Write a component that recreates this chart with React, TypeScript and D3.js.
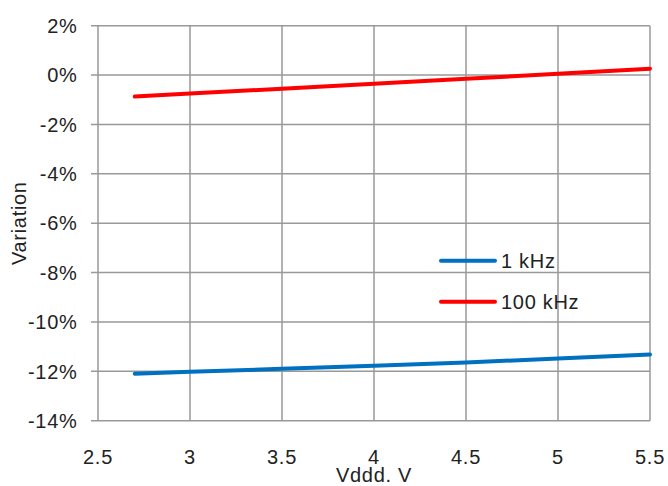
import React from "react";
import * as d3 from "d3";

const xTicks = [2.5, 3, 3.5, 4, 4.5, 5, 5.5];
const xTickLabels = ["2.5", "3", "3.5", "4", "4.5", "5", "5.5"];
const yTicks = [2, 0, -2, -4, -6, -8, -10, -12, -14];
const yTickLabels = ["2%", "0%", "-2%", "-4%", "-6%", "-8%", "-10%", "-12%", "-14%"];

const vddd = [2.7, 3.0, 3.5, 4.0, 4.5, 5.0, 5.5];
const series1kHz = [-12.1, -12.02, -11.9, -11.77, -11.64, -11.48, -11.32];
const series100kHz = [-0.87, -0.75, -0.55, -0.35, -0.15, 0.05, 0.26];

const seriesNames = ["1 kHz", "100 kHz"];
const seriesColors = ["#0070C0", "#FF0000"];

export default function App() {
  const W = 668, H = 486;
  const x = d3.scaleLinear().domain([2.5, 5.5]).range([98, 650]);
  const y = d3.scaleLinear().domain([-14, 2]).range([420.7, 25.7]);
  const line = d3
    .line<[number, number]>()
    .x((d) => x(d[0]))
    .y((d) => y(d[1]));
  const data = [series1kHz, series100kHz];
  const font = "'Liberation Sans', Arial, sans-serif";
  const textColor = "#222";
  const fs = 20;
  const ls = 0.7;
  return (
    <svg
      width={W}
      height={H}
      style={{ position: "absolute", left: 0, top: 0, background: "#fff" }}
      fontFamily={font}
    >
      {/* grid */}
      {xTicks.map((t) => (
        <line key={"gx" + t} x1={x(t)} x2={x(t)} y1={y(2)} y2={y(-14)} stroke="#999" strokeWidth={1.5} />
      ))}
      {yTicks.map((t) => (
        <line key={"gy" + t} x1={x(2.5) - 7} x2={x(5.5)} y1={y(t)} y2={y(t)} stroke="#999" strokeWidth={1.5} />
      ))}
      {/* y tick labels */}
      {yTicks.map((t, i) => (
        <text key={"yl" + t} x={77.5} y={y(t)} dy="0.36em" textAnchor="end" fontSize={fs} letterSpacing={ls} fill={textColor}>
          {yTickLabels[i]}
        </text>
      ))}
      {/* x tick labels */}
      {xTicks.map((t, i) => (
        <text key={"xl" + t} x={x(t)} y={464} textAnchor="middle" fontSize={fs} letterSpacing={ls} fill={textColor}>
          {xTickLabels[i]}
        </text>
      ))}
      {/* series */}
      {data.map((s, i) => (
        <path
          key={"s" + i}
          d={line(vddd.map((v, j) => [v, s[j]] as [number, number])) || ""}
          fill="none"
          stroke={seriesColors[i]}
          strokeWidth={4}
          strokeLinecap="round"
        />
      ))}
      {/* legend */}
      {seriesNames.map((n, i) => (
        <g key={"lg" + i} transform={`translate(0, ${260.7 + i * 41})`}>
          <line x1={441} x2={495} y1={0} y2={0} stroke={seriesColors[i]} strokeWidth={4} strokeLinecap="round" />
          <text x={501} y={0} dy="0.36em" fontSize={fs} letterSpacing={ls} fill={textColor}>
            {n}
          </text>
        </g>
      ))}
      {/* axis titles */}
      <text
        transform={`translate(26, ${(y(2) + y(-14)) / 2}) rotate(-90)`}
        textAnchor="middle"
        fontSize={fs}
        letterSpacing={ls}
        fill={textColor}
      >
        Variation
      </text>
      <text x={(x(2.5) + x(5.5)) / 2} y={482} textAnchor="middle" fontSize={fs} letterSpacing={ls} fill={textColor}>
        Vddd. V
      </text>
    </svg>
  );
}
